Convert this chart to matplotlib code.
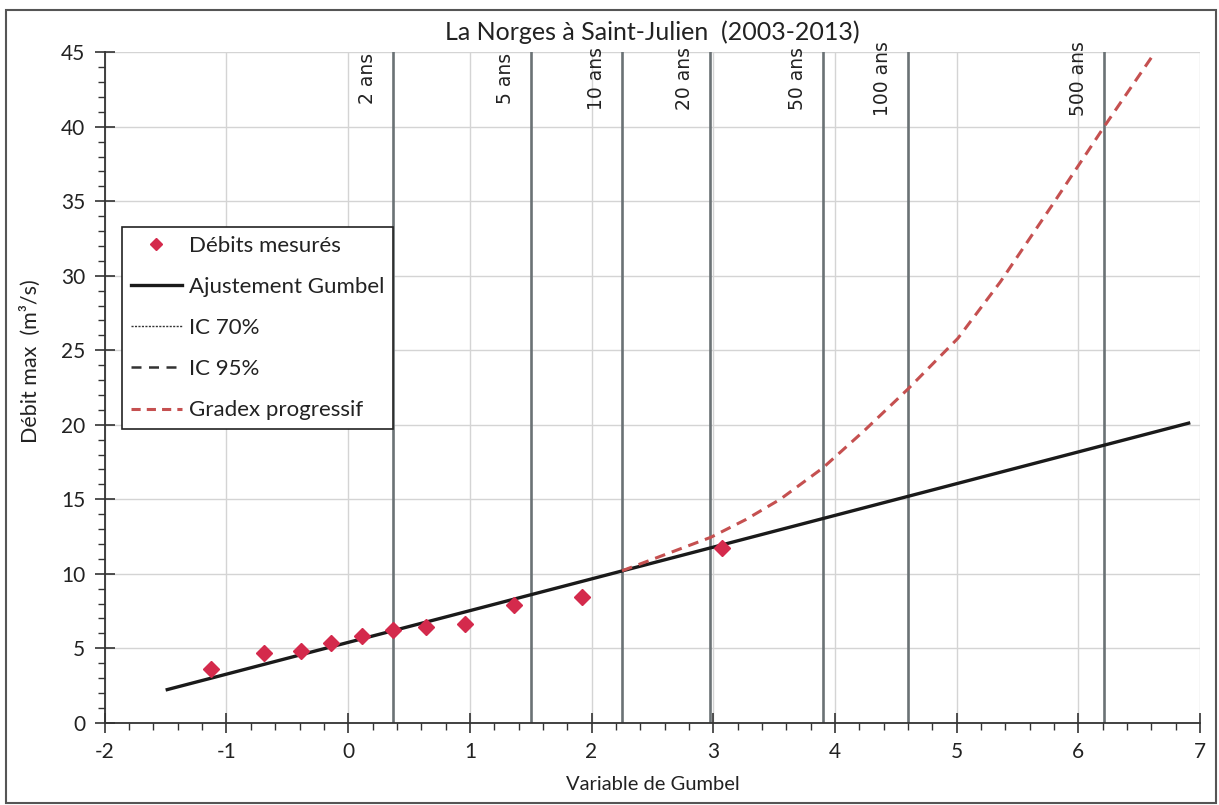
import matplotlib
matplotlib.use("Agg")
import matplotlib.pyplot as plt
from matplotlib.lines import Line2D
from matplotlib.patches import Rectangle
from matplotlib.ticker import MultipleLocator

plt.rcParams['font.family'] = ['Lato', 'DejaVu Sans']
plt.rcParams['axes.unicode_minus'] = False

# --- data ---
obs_u = [-1.13, -0.69, -0.39, -0.14, 0.11, 0.37, 0.64, 0.96, 1.36, 1.92, 3.07]
obs_q = [3.58, 4.67, 4.85, 5.34, 5.85, 6.21, 6.43, 6.63, 7.88, 8.46, 11.70]

fit_u = [-1.50, 6.92]
fit_q = [2.20, 20.14]

gradex_u = [2.25, 2.98, 3.27, 3.55, 3.90, 4.24, 4.60, 5.01, 5.36, 5.79, 6.22, 6.63]
gradex_q = [10.2, 12.45, 13.65, 15.0, 17.1, 19.6, 22.4, 25.8, 29.6, 34.8, 40.1, 45.0]

rp_labels = ["2 ans", "5 ans", "10 ans", "20 ans", "50 ans", "100 ans", "500 ans"]
rp_u = [0.367, 1.500, 2.250, 2.970, 3.902, 4.600, 6.214]

title = "La Norges à Saint-Julien  (2003-2013)"
xlabel = "Variable de Gumbel"
ylabel = "Débit max  (m³/s)"

W, H = 1219, 805
fig = plt.figure(figsize=(W / 100, H / 100), dpi=100)
ax = fig.add_axes([104.8 / W, 1 - 722.8 / H, (1200 - 104.8) / W, (722.8 - 52.3) / H])

ax.set_xlim(-2, 7)
ax.set_ylim(0, 45)

# grid
ax.xaxis.set_major_locator(MultipleLocator(1))
ax.xaxis.set_minor_locator(MultipleLocator(0.2))
ax.yaxis.set_major_locator(MultipleLocator(5))
ax.yaxis.set_minor_locator(MultipleLocator(1))
ax.grid(True, which='major', color='#d4d4d4', linewidth=1.0, zorder=0)
ax.set_axisbelow(True)

for s in ['top', 'right']:
    ax.spines[s].set_visible(False)
for s in ['left', 'bottom']:
    ax.spines[s].set_color('#333333')
    ax.spines[s].set_linewidth(1.3)

ax.tick_params(which='major', direction='inout', length=14, width=1.2, color='#333333',
               labelsize=15, pad=7, labelcolor='#222222')
ax.tick_params(which='minor', direction='out', length=5, width=1.0, color='#333333')

# return period lines
for u, lab in zip(rp_u, rp_labels):
    ax.axvline(u, color='#6b7275', linewidth=1.9, zorder=1)
    ax.text(u - 0.21, 43.27, lab, rotation=90, ha='center', va='center',
            fontsize=13.5, family='DejaVu Sans', color='#222222', zorder=3)

# series
ax.plot(fit_u, fit_q, color='#1a1a1a', linewidth=2.4, solid_capstyle='butt', zorder=3)
ax.plot(gradex_u, gradex_q, color='#c55050', linewidth=2.2, linestyle=(0, (3.5, 2.3)), zorder=3)
ax.plot(obs_u, obs_q, linestyle='none', marker='D', markersize=8, color='#d42a4c',
        markeredgecolor='#d42a4c', zorder=4)

ax.set_title(title, fontsize=18, pad=9, color='#222222')
ax.set_xlabel(xlabel, fontsize=14.5, labelpad=10, color='#222222')
ax.set_ylabel(ylabel, fontsize=15.5, labelpad=14, color='#222222')
ax.yaxis.set_label_coords(-0.058, 0.54)

# legend
handles = [
    Line2D([], [], linestyle='none', marker='D', markersize=6.5, color='#d42a4c'),
    Line2D([], [], color='#1a1a1a', linewidth=2.4),
    Line2D([], [], color='#333333', linewidth=1.0, linestyle=(0, (1.5, 1))),
    Line2D([], [], color='#333333', linewidth=1.8, linestyle=(0, (4, 3))),
    Line2D([], [], color='#c55050', linewidth=2.2, linestyle=(0, (3, 2))),
]
labels = ["Débits mesurés", "Ajustement Gumbel", "IC 70%", "IC 95%", "Gradex progressif"]
leg = ax.legend(handles, labels, loc='upper left',
                bbox_to_anchor=((122 - 104.8) / 1095.2, (722.8 - 227) / 670.5),
                borderaxespad=0, fontsize=16, frameon=True, fancybox=False,
                edgecolor='#222222', framealpha=1, handlelength=2.3, handletextpad=0.3,
                labelspacing=0.95, borderpad=0.4)
leg.get_frame().set_linewidth(1.2)
for t in leg.get_texts():
    t.set_color('#222222')

# outer border
fig.patches.append(Rectangle((6 / W, 1 - 803 / H), (1216 - 6) / W, (803 - 10) / H,
                             transform=fig.transFigure, fill=False,
                             edgecolor='#555555', linewidth=1.5))

fig.savefig("out.png", dpi=100)
